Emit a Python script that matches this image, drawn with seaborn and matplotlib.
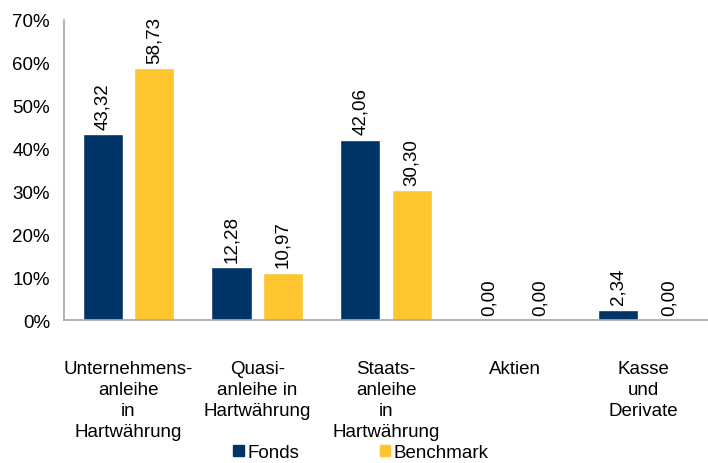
import matplotlib
matplotlib.use("Agg")
import matplotlib.pyplot as plt
import seaborn as sns
import pandas as pd
from matplotlib.patches import Patch

categories = ["Unternehmens-\nanleihe\nin\nHartwährung", "Quasi-\nanleihe in\nHartwährung",
              "Staats-\nanleihe\nin\nHartwährung", "Aktien", "Kasse\nund\nDerivate"]
fonds = [43.32, 12.28, 42.06, 0.00, 2.34]
benchmark = [58.73, 10.97, 30.30, 0.00, 0.00]
series = ["Fonds", "Benchmark"]
colors = ["#003366", "#FFC52F"]
yticks = [0, 10, 20, 30, 40, 50, 60, 70]

df = pd.DataFrame({
    "cat": categories * 2,
    "val": fonds + benchmark,
    "series": [series[0]] * len(categories) + [series[1]] * len(categories),
})

sns.set_style("white")
plt.rcParams["font.family"] = ["Liberation Sans", "DejaVu Sans"]
plt.rcParams["text.color"] = "black"
plt.rcParams["xtick.color"] = "black"
plt.rcParams["ytick.color"] = "black"
fs = 13.5

fig = plt.figure(figsize=(7.08, 4.64), dpi=100)
ax = fig.add_axes([0.0904, 0.308, 0.9096, 0.647])
sns.barplot(data=df, x="cat", y="val", hue="series", palette=colors, ax=ax,
            gap=0.22, width=0.8, legend=False, saturation=1, errorbar=None)

ax.set_ylim(0, 70)
ax.set_xlim(-0.5, 4.5)
ax.set_yticks(yticks)
ax.set_yticklabels([f"{t}%" for t in yticks], fontsize=fs)
ax.tick_params(axis="y", length=0, pad=10, labelcolor="black")
ax.tick_params(axis="x", length=0, pad=29, labelcolor="black")
for lbl in ax.get_xticklabels():
    lbl.set_fontsize(fs)
    lbl.set_linespacing(1.3)
    lbl.set_horizontalalignment("center")
ax.set_xlabel("")
ax.set_ylabel("")
for s in ["top", "right"]:
    ax.spines[s].set_visible(False)
for s in ["left", "bottom"]:
    ax.spines[s].set_color("#a6a6a6")
    ax.spines[s].set_linewidth(1.2)

for cont in ax.containers:
    labels = [f"{v:.2f}".replace(".", ",") for v in cont.datavalues]
    ax.bar_label(cont, labels=labels, rotation=90, padding=4, fontsize=fs, color="black")

handles = [Patch(color=c, label=s) for c, s in zip(colors, series)]
fig.legend(handles=handles, loc="lower center", bbox_to_anchor=(0.51, -0.032), ncol=2,
           frameon=False, fontsize=fs, handlelength=0.55, handleheight=0.55,
           handletextpad=0.2, columnspacing=4.3, labelcolor="black")

fig.savefig("out.png", dpi=100)
